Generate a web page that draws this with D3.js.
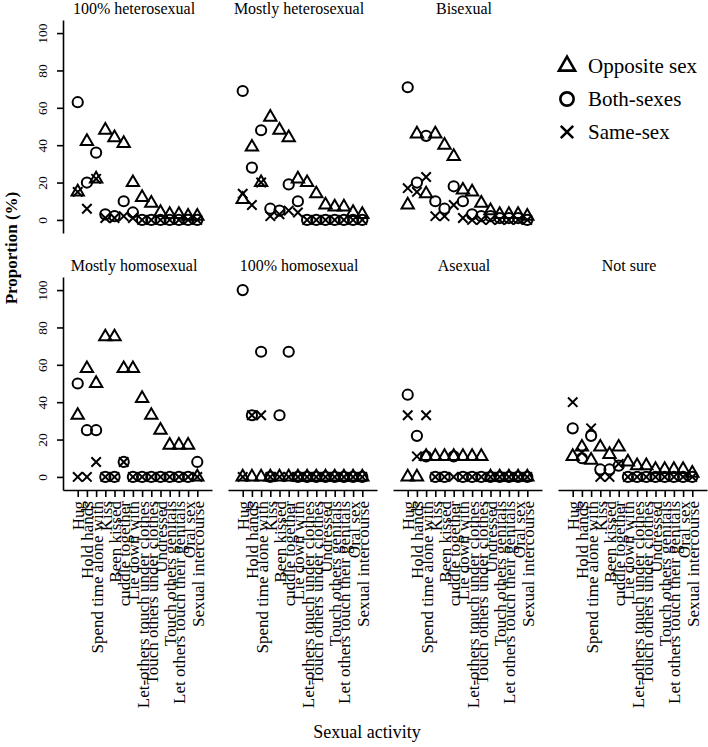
<!DOCTYPE html>
<html>
<head>
<meta charset="utf-8">
<script src="https://cdn.jsdelivr.net/npm/d3@7"></script>
<style>
body { margin: 0; background: #fff; }
svg text { font-family: "Liberation Serif", "Times New Roman", serif; fill: #000; }
</style>
</head>
<body>
<svg id="chart"></svg>
<script>
// ---------------- data ----------------
let activities = ['Hug', 'Hold hands', 'Spend time alone with', 'Kiss', 'Been kissed',
  'cuddle together', 'Lie down with', 'Let-others touch under clothes',
  'Touch others under clothes', 'Undressed', 'Touch others genitals',
  'Let others touch their genitals', 'Oral sex', 'Sexual intercourse']

let groups = ['100% heterosexual', 'Mostly heterosexual', 'Bisexual',
  'Mostly homosexual', '100% homosexual', 'Asexual', 'Not sure']

let seriesNames = ['Opposite sex', 'Both-sexes', 'Same-sex']

// one row per group, one value per activity (%)
let oppositeSex = [
  [15, 42, 22, 48, 44, 41, 20, 12, 9, 4, 3, 3, 2, 2],
  [11, 39, 20, 55, 48, 44, 22, 20, 14, 8, 7, 7, 4, 3],
  [8, 46, 14, 46, 40, 34, 16, 15, 9, 5, 3, 3, 3, 2],
  [33, 58, 50, 75, 75, 58, 58, 42, 33, 25, 17, 17, 17, 0],
  [0, 0, 0, 0, 0, 0, 0, 0, 0, 0, 0, 0, 0, 0],
  [0, 0, 11, 11, 11, 11, 11, 11, 11, 0, 0, 0, 0, 0],
  [11, 16, 9, 16, 12, 16, 8, 6, 6, 4, 4, 4, 4, 2]
]

let bothSexes = [
  [63, 20, 36, 3, 2, 10, 4, 0, 0, 0, 0, 0, 0, 0],
  [69, 28, 48, 6, 5, 19, 10, 0, 0, 0, 0, 0, 0, 0],
  [71, 20, 45, 10, 6, 18, 10, 3, 2, 2, 1, 1, 1, 0],
  [50, 25, 25, 0, 0, 8, 0, 0, 0, 0, 0, 0, 0, 8],
  [100, 33, 67, 0, 33, 67, 0, 0, 0, 0, 0, 0, 0, 0],
  [44, 22, 11, 0, 0, 11, 0, 0, 0, 0, 0, 0, 0, 0],
  [26, 10, 22, 4, 4, 6, 0, 0, 0, 0, 0, 0, 0, 0]
]

let sameSex = [
  [15, 6, 22, 1, 1, 2, 1, 0, 0, 0, 0, 0, 0, 0],
  [14, 8, 20, 2, 3, 5, 4, 0, 0, 0, 0, 0, 0, 0],
  [17, 15, 23, 2, 2, 8, 1, 0, 0, 0, 0, 0, 0, 0],
  [0, 0, 8, 0, 0, 8, 0, 0, 0, 0, 0, 0, 0, 0],
  [0, 33, 33, 0, 0, 0, 0, 0, 0, 0, 0, 0, 0, 0],
  [33, 11, 33, 0, 0, 0, 0, 0, 0, 0, 0, 0, 0, 0],
  [40, 13, 26, 0, 0, 7, 0, 0, 0, 0, 0, 0, 0, 0]
]

let yTicks = [0, 20, 40, 60, 80, 100]

// ---------------- layout ----------------
let width = 708
let height = 747
let panelW = 149
let panelH = 213
let colStep = 165
let rowStep = 257
let left0 = 63
let top0 = 20

let svg = d3.select('#chart').attr('width', width).attr('height', height)

let shapes = [d3.symbolTriangle, d3.symbolCircle, d3.symbolX]
let sizes = [66, 82, 60]
let allSeries = [oppositeSex, bothSexes, sameSex]

let drawPanel = (g) => {
  let row = g < 3 ? 0 : 1
  let col = g < 3 ? g : g - 3
  let x0 = left0 + col * colStep
  let y0 = top0 + row * rowStep

  let xScale = d3.scalePoint().domain(activities).range([x0, x0 + panelW]).padding(1.6)
  let yScale = d3.scaleLinear().domain([-7, 107]).range([y0 + panelH, y0])

  let panel = svg.append('g').attr('class', 'panel')

  // panel title
  panel.append('text')
    .attr('x', x0 + 71)
    .attr('y', y0 - 6)
    .attr('text-anchor', 'middle')
    .attr('font-size', 16)
    .text(groups[g])

  if (col === 0) {
    let yAxis = d3.axisLeft(yScale).tickValues(yTicks).tickSize(6).tickSizeOuter(0)
    let ga = panel.append('g')
      .attr('transform', 'translate(' + x0 + ',0)')
      .call(yAxis)
    ga.selectAll('path, line').attr('stroke', '#000').attr('stroke-width', 1.6)
    ga.selectAll('text')
      .attr('font-family', null)
      .attr('font-size', 13.5)
      .attr('transform', 'rotate(-90)')
      .attr('x', 0)
      .attr('y', -16)
      .attr('dy', 0)
      .attr('text-anchor', 'middle')
  }

  if (row === 1) {
    let xAxis = d3.axisBottom(xScale).tickSize(7).tickSizeOuter(0)
    let gx = panel.append('g')
      .attr('transform', 'translate(0,' + (y0 + panelH) + ')')
      .call(xAxis)
    gx.selectAll('path, line').attr('stroke', '#000').attr('stroke-width', 1.6)
    gx.selectAll('text')
      .attr('font-family', null)
      .attr('font-size', 17)
      .attr('transform', 'rotate(-90)')
      .attr('x', -11)
      .attr('y', 0)
      .attr('dy', '0.35em')
      .attr('text-anchor', 'end')
  }

  allSeries.forEach((series, s) => {
    panel.append('g')
      .selectAll('path')
      .data(series[g])
      .enter()
      .append('path')
      .attr('d', d3.symbol().type(shapes[s]).size(sizes[s]))
      .attr('transform', (v, i) => 'translate(' + xScale(activities[i]) + ',' + yScale(v) + ')')
      .attr('fill', 'none')
      .attr('stroke', '#000')
      .attr('stroke-width', 2)
  })
}

groups.forEach((name, g) => drawPanel(g))

// legend in the empty top-right slot
let legendY = d3.scalePoint().domain(seriesNames).range([66, 132])
let legend = svg.append('g')
seriesNames.forEach((name, s) => {
  legend.append('path')
    .attr('d', d3.symbol().type(shapes[s]).size(sizes[s] * 1.7))
    .attr('transform', 'translate(567,' + legendY(name) + ')')
    .attr('fill', 'none')
    .attr('stroke', '#000')
    .attr('stroke-width', 2.6)
  legend.append('text')
    .attr('x', 588)
    .attr('y', legendY(name) + 7)
    .attr('font-size', 21)
    .text(name)
})

// axis titles
svg.append('text')
  .attr('transform', 'translate(17,248) rotate(-90)')
  .attr('text-anchor', 'middle')
  .attr('font-size', 17)
  .attr('font-weight', 'bold')
  .text('Proportion (%)')

svg.append('text')
  .attr('x', 367)
  .attr('y', 738)
  .attr('text-anchor', 'middle')
  .attr('font-size', 18)
  .text('Sexual activity')
</script>
</body>
</html>
